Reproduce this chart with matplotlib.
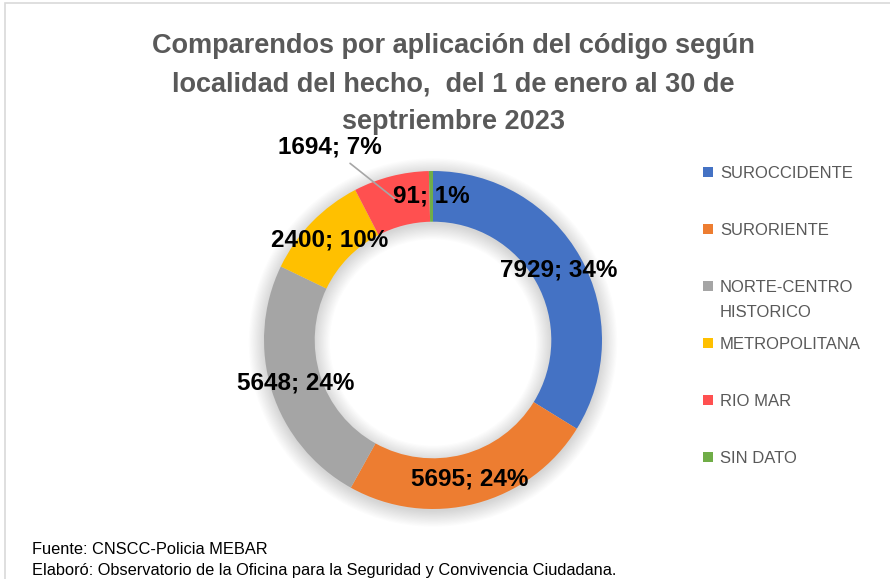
import matplotlib
matplotlib.use("Agg")
import matplotlib.pyplot as plt
from matplotlib.patches import Wedge, Rectangle
import numpy as np

plt.rcParams["font.family"] = ["Liberation Sans", "DejaVu Sans"]

# data
localidades = ["SUROCCIDENTE", "SURORIENTE", "NORTE-CENTRO\nHISTORICO",
               "METROPOLITANA", "RIO MAR", "SIN DATO"]
comparendos = [7929, 5695, 5648, 2400, 1694, 91]
porcentajes = [34, 24, 24, 10, 7, 1]
colores = ["#4472C4", "#ED7D31", "#A5A5A5", "#FFC000", "#FF5050", "#70AD47"]

W, H = 890, 579
fig = plt.figure(figsize=(W / 100, H / 100), dpi=100)

# chart area border
fig.patches.append(Rectangle((5 / W, -0.05), 1.1, 1 - 3 / H + 0.05,
                             transform=fig.transFigure, fill=False,
                             edgecolor="#D9D9D9", linewidth=1.2))

# donut axes: center (433, 340) px, radius 169 px
cx, cy, R = 433, 340, 169
ax = fig.add_axes([(cx - R) / W, (H - cy - R) / H, 2 * R / W, 2 * R / H])
ax.axis("off")

ring = 0.30

# soft shadow around the ring
for r in np.linspace(0.0, 0.09, 14):
    ax.add_patch(Wedge((0, -0.015), 1 + r, 0, 360, width=ring + 2 * r,
                       facecolor="black", edgecolor="none", alpha=0.012,
                       clip_on=False))

wedges, _ = ax.pie(comparendos, colors=colores, startangle=90,
                   counterclock=False, radius=1,
                   wedgeprops=dict(width=ring, edgecolor="none"))
ax.set_xlim(-1, 1)
ax.set_ylim(-1, 1)

rmid = 1 - ring / 2
for i, (w, v, p) in enumerate(zip(wedges, comparendos, porcentajes)):
    ang = np.deg2rad((w.theta1 + w.theta2) / 2)
    x, y = rmid * np.cos(ang), rmid * np.sin(ang)
    txt = f"{v}; {p}%"
    if localidades[i] == "RIO MAR":
        ax.annotate(txt, xy=(x, y), xytext=(-0.61, 1.14),
                    ha="center", va="center", fontsize=17.5, fontweight="bold",
                    color="black",
                    arrowprops=dict(arrowstyle="-", color="#A6A6A6", lw=1.2,
                                    shrinkA=2, shrinkB=0))
    else:
        ax.text(x, y, txt, ha="center", va="center", fontsize=17.5,
                fontweight="bold", color="black")

# title
fig.text(453 / W, 1 - 84 / H,
         "Comparendos por aplicación del código según\n"
         "localidad del hecho,  del 1 de enero al 30 de\n"
         "septriembre 2023",
         ha="center", va="center", fontsize=19.5, fontweight="bold",
         color="#595959", linespacing=1.62)

# legend
y0, step = 172, 57
for i, (lab, c) in enumerate(zip(localidades, colores)):
    yc = y0 + i * step
    fig.patches.append(Rectangle((703 / W, 1 - (yc + 5) / H), 10 / W, 10 / H,
                                 transform=fig.transFigure,
                                 facecolor=c, edgecolor="none"))
    fig.text(720 / W, 1 - (yc - 6) / H, lab, ha="left", va="top",
             fontsize=12, color="#595959", linespacing=1.85)

# footer
fig.text(32 / W, 1 - 549 / H, "Fuente: CNSCC-Policia MEBAR",
         ha="left", va="center", fontsize=11.8, color="black")
fig.text(32 / W, 1 - 571 / H,
         "Elaboró: Observatorio de la Oficina para la Seguridad y Convivencia Ciudadana.",
         ha="left", va="center", fontsize=11.8, color="black")

fig.savefig("out.png", dpi=100)
